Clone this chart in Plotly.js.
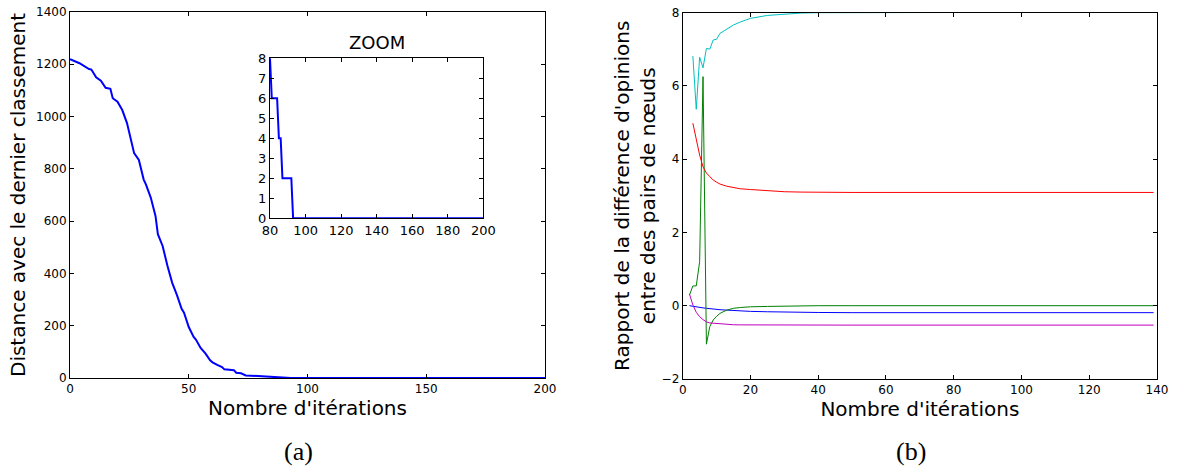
<!DOCTYPE html>
<html><head><meta charset="utf-8">
<script src="https://cdn.plot.ly/plotly-3.0.1.min.js"></script>
<style>html,body{margin:0;padding:0;background:#fff}#chart{width:1178px;height:469px}</style>
</head><body><div id="chart"></div>
<script>
// (a) distance to the last ranking vs iterations
const iterA = [0,4,8,9,11,13,15,17,18,20,22,24,27,29,31,32,34,36,37,39,41,43,45,47,48,49,50,52,53,55,57,59,60,62,64,65,67,69,70,72,74,78,80,81,82,83,84,85,86,87,88,89,90,91,92,93,100,120,140,160,180,200];
const distA = [1220,1204,1182,1180,1150,1137,1110,1106,1070,1057,1025,975,860,834,760,740,690,620,550,505,430,365,318,265,250,225,195,158,147,115,94,68,60,50,42,33,32,30,20,18,10,8,8,6,6,6,6,4,4,2,2,2,2,2,2,0,0,0,0,0,0,0];

// (b) ratio of opinion differences between node pairs
const iterB = [2,3,4,5,6,7,8,9,10,11,13,15,17,20,25,30,35,40,50,60,80,100,120,139];
const ratioBlue    = [0,-0.02,-0.035,-0.05,-0.06,-0.07,-0.085,-0.095,-0.1,-0.11,-0.12,-0.135,-0.145,-0.155,-0.165,-0.175,-0.18,-0.185,-0.19,-0.19,-0.19,-0.19,-0.19,-0.19];
const ratioGreen   = [0.29,0.54,0.54,1.2,6.25,-1.05,-0.57,-0.39,-0.29,-0.21,-0.12,-0.07,-0.05,-0.03,-0.02,-0.01,-0.005,0,0,0,0,0,0,0];
const ratioRed     = [null,4.98,4.52,4.11,3.79,3.62,3.52,3.43,3.37,3.32,3.26,3.22,3.19,3.17,3.13,3.11,3.10,3.09,3.09,3.09,3.09,3.09,3.09,3.09];
const ratioCyan    = [null,6.81,5.36,6.78,6.49,7.02,7.0,7.25,7.27,7.43,7.55,7.66,7.74,7.84,7.92,7.96,7.985,7.995,8,8,8,8,8,8];
const ratioMagenta = [0.32,0.02,-0.18,-0.3,-0.38,-0.44,-0.47,-0.48,-0.49,-0.5,-0.51,-0.52,-0.523,-0.525,-0.528,-0.53,-0.53,-0.53,-0.53,-0.53,-0.53,-0.53,-0.53,-0.53];

const ticksA_x = [0,50,100,150,200];
const ticksA_y = [0,200,400,600,800,1000,1200,1400];
const ticksZ_x = [80,100,120,140,160,180,200];
const ticksZ_y = [0,1,2,3,4,5,6,7,8];
const ticksB_x = [0,20,40,60,80,100,120,140];
const ticksB_y = [-2,0,2,4,6,8];

const W = 1178, H = 469;
const px = v => v / W;
const py = v => 1 - v / H;

function ax(extra, fs) {
  return Object.assign({
    showline: true, linecolor: '#000', linewidth: 1, mirror: 'ticks',
    ticks: 'inside', ticklen: 4, tickcolor: '#000', tickwidth: 1,
    showgrid: false, zeroline: false, tickmode: 'array',
    tickfont: {family: 'DejaVu Sans', size: fs || 12, color: '#000'},
    fixedrange: true
  }, extra);
}
const titleFont = {family: 'DejaVu Sans', size: 20, color: '#000'};

const traces = [
  {x: iterA, y: distA, xaxis: 'x', yaxis: 'y', mode: 'lines', line: {color: '#0000FF', width: 2}},
  {x: iterA, y: distA, xaxis: 'x3', yaxis: 'y3', mode: 'lines', line: {color: '#0000FF', width: 2}},
  {x: iterB, y: ratioBlue, xaxis: 'x2', yaxis: 'y2', mode: 'lines', line: {color: '#0000FF', width: 1}},
  {x: iterB, y: ratioGreen, xaxis: 'x2', yaxis: 'y2', mode: 'lines', line: {color: '#008000', width: 1}},
  {x: iterB, y: ratioRed, xaxis: 'x2', yaxis: 'y2', mode: 'lines', line: {color: '#FF0000', width: 1}},
  {x: iterB, y: ratioCyan, xaxis: 'x2', yaxis: 'y2', mode: 'lines', line: {color: '#00BFBF', width: 1}},
  {x: iterB, y: ratioMagenta, xaxis: 'x2', yaxis: 'y2', mode: 'lines', line: {color: '#BF00BF', width: 1}}
];

const layout = {
  width: W, height: H, showlegend: false,
  margin: {l: 0, r: 0, t: 0, b: 0},
  paper_bgcolor: '#fff', plot_bgcolor: '#fff',
  xaxis: ax({domain: [px(70), px(545)], range: [0, 200], tickvals: ticksA_x, anchor: 'y',
    title: {text: "Nombre d'itérations", font: titleFont, standoff: 1}}),
  yaxis: ax({domain: [py(378), py(12)], range: [0, 1400], tickvals: ticksA_y, anchor: 'x',
    title: {text: 'Distance avec le dernier classement', font: titleFont, standoff: 5}}),
  xaxis2: ax({domain: [px(682.7), px(1157)], range: [0, 140], tickvals: ticksB_x, anchor: 'y2',
    title: {text: "Nombre d'itérations", font: titleFont, standoff: 1}}),
  yaxis2: ax({domain: [py(379), py(12.5)], range: [-2, 8], tickvals: ticksB_y, anchor: 'x2',
    title: {text: "Rapport de la différence d'opinions<br>entre des pairs de nœuds", font: titleFont, standoff: 0}}),
  xaxis3: ax({domain: [px(270), px(483.3)], range: [80, 200], tickvals: ticksZ_x, anchor: 'y3'}, 13),
  yaxis3: ax({domain: [py(218.3), py(58.3)], range: [0, 8], tickvals: ticksZ_y, anchor: 'x3'}, 13),
  annotations: [
    {text: 'ZOOM', xref: 'paper', yref: 'paper', x: px(376.7), y: py(43), xanchor: 'center', yanchor: 'middle',
     showarrow: false, font: {family: 'DejaVu Sans', size: 18, color: '#000'}},
    {text: '(a)', xref: 'paper', yref: 'paper', x: px(298), y: py(451), xanchor: 'center', yanchor: 'middle',
     showarrow: false, font: {family: 'Liberation Serif', size: 26, color: '#000'}},
    {text: '(b)', xref: 'paper', yref: 'paper', x: px(911), y: py(451), xanchor: 'center', yanchor: 'middle',
     showarrow: false, font: {family: 'Liberation Serif', size: 26, color: '#000'}}
  ]
};

Plotly.newPlot('chart', traces, layout, {displayModeBar: false, staticPlot: true});
</script>
</body></html>
